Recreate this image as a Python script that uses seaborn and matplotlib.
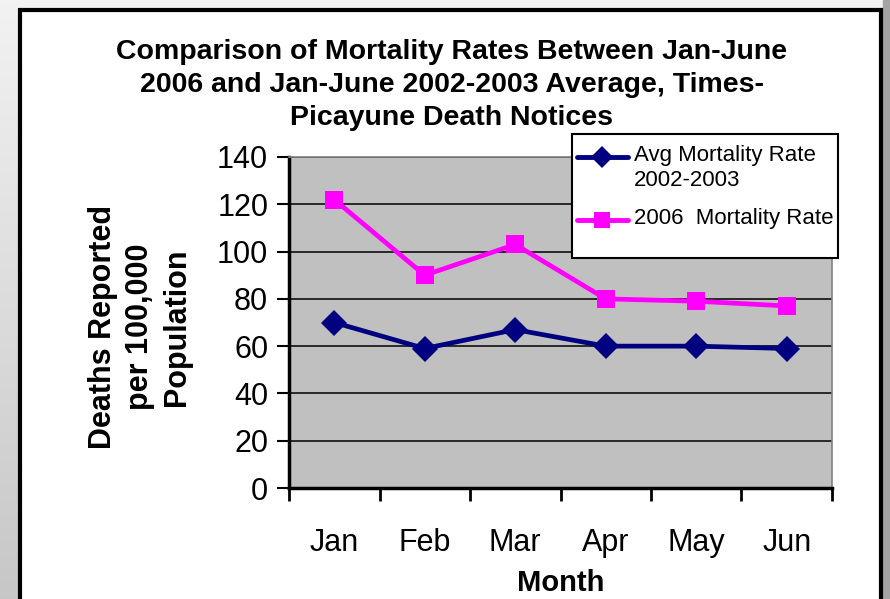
import matplotlib
matplotlib.use("Agg")
import matplotlib.pyplot as plt
import seaborn as sns
import numpy as np
import pandas as pd
from matplotlib.patches import Rectangle
from matplotlib.lines import Line2D

months = ["Jan", "Feb", "Mar", "Apr", "May", "Jun"]
avg_2002_2003 = [70, 59, 67, 60, 60, 59]
rate_2006 = [122, 90, 103, 80, 79, 77]
series_names = ["Avg Mortality Rate\n2002-2003", "2006  Mortality Rate"]
y_ticks = [0, 20, 40, 60, 80, 100, 120, 140]
colors = ["#000080", "#ff00ff"]
markers = ["D", "s"]

sns.set_theme(style="white")
plt.rcParams['font.family'] = ['Liberation Sans', 'DejaVu Sans']
for k in ['text.color', 'axes.labelcolor', 'xtick.color', 'ytick.color']:
    plt.rcParams[k] = 'black'

W, H = 890, 599
fig = plt.figure(figsize=(W / 100, H / 100), dpi=100)

# background gradient and white panel
bg = fig.add_axes([0, 0, 1, 1], zorder=-10)
grad = np.linspace(0.95, 0.78, 200).reshape(-1, 1)
bg.imshow(np.dstack([grad, grad, grad]), aspect='auto', extent=[0, 1, 0, 1])
bg.add_patch(Rectangle((883 / W, 0), 7 / W, 1, color='#a4a4a4', transform=bg.transAxes))
bg.add_patch(Rectangle((20 / W, -0.05), 861 / W, 1.05 - 10 / H, facecolor='white',
                       edgecolor='black', linewidth=3, transform=bg.transAxes))
bg.set_xlim(0, 1); bg.set_ylim(0, 1); bg.axis('off')

df = pd.DataFrame({
    "Month": months * 2,
    "Rate": avg_2002_2003 + rate_2006,
    "Series": [series_names[0]] * 6 + [series_names[1]] * 6,
})

ax = fig.add_axes([289 / W, 1 - 488 / H, 543 / W, 331 / H])
ax.set_facecolor('#c0c0c0')
sns.lineplot(data=df, x="Month", y="Rate", hue="Series", style="Series",
             palette=colors, markers=markers, dashes=False,
             linewidth=3.4, markersize=13.5, markeredgewidth=0, ax=ax, legend=False,
             sort=False)

ax.set_xlim(-0.5, 5.5)
ax.set_ylim(0, 140)
ax.set_yticks(y_ticks)
ax.set_yticklabels([str(v) for v in y_ticks], fontsize=22)
for v in y_ticks[1:]:
    ax.axhline(v, color='black', linewidth=1.1, zorder=0.5)

ax.set_xticks(np.arange(-0.5, 6, 1))
ax.set_xticklabels([])
ax.set_xticks(np.arange(6), minor=True)
ax.set_xticklabels(months, minor=True, fontsize=22)
ax.tick_params(axis='x', which='major', direction='out', length=9, width=2, color='black', bottom=True)
ax.tick_params(axis='x', which='minor', length=0, pad=29)
ax.tick_params(axis='y', direction='out', length=9, width=1.5, color='black', left=True, pad=6)

for s in ['left', 'bottom']:
    ax.spines[s].set_color('black'); ax.spines[s].set_linewidth(2.5)
for s in ['top', 'right']:
    ax.spines[s].set_color('#808080'); ax.spines[s].set_linewidth(1.2)

ax.set_xlabel("Month", fontsize=21, fontweight='bold', labelpad=8)
ax.set_ylabel("")

fig.text(140 / W, 1 - 327 / H, "Deaths Reported\nper 100,000\nPopulation", rotation=90,
         ha='center', va='center', fontsize=22, fontweight='bold', linespacing=1.3,
         multialignment='center')

fig.text(452 / W, 1 - 85 / H,
         "Comparison of Mortality Rates Between Jan-June\n2006 and Jan-June 2002-2003 Average, Times-\nPicayune Death Notices",
         ha='center', va='center', fontsize=20.5, fontweight='bold', linespacing=1.33)

# legend box (drawn manually to match the layout)
fig.patches.append(Rectangle((572 / W, 1 - 258 / H), 266 / W, 124 / H, facecolor='white',
                             edgecolor='black', linewidth=1.5, transform=fig.transFigure, zorder=5))
leg_rows = [157, 220]
for name, col, mk, yy in zip(series_names, colors, markers, leg_rows):
    fy = 1 - yy / H
    fig.add_artist(Line2D([577 / W, 628 / W], [fy, fy], color=col, linewidth=3.5,
                          transform=fig.transFigure, zorder=6))
    fig.add_artist(Line2D([602 / W], [fy], color=col, marker=mk, markersize=11,
                          markeredgewidth=0, linestyle='none', transform=fig.transFigure, zorder=7))
    fig.text(634 / W, fy + 12 / H, name, ha='left', va='top', fontsize=16,
             linespacing=1.25, zorder=7)

fig.savefig("out.png", dpi=100)
